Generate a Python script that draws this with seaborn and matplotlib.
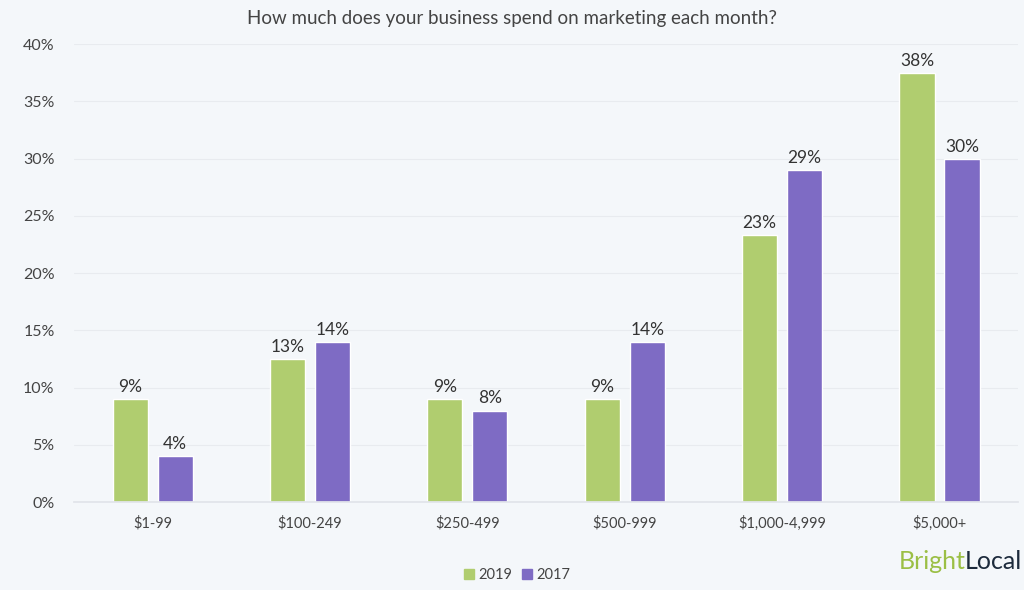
import pandas as pd
import matplotlib
matplotlib.use("Agg")
import matplotlib.pyplot as plt
import seaborn as sns

# survey answers, percent of businesses
categories = ["$1-99", "$100-249", "$250-499", "$500-999", "$1,000-4,999", "$5,000+"]
years = ["2019", "2017"]
share_2019 = [9, 12.5, 9, 9, 23.3, 37.5]
share_2017 = [4, 14, 8, 14, 29, 30]

df = pd.DataFrame({
    "spend": categories * 2,
    "year": [years[0]] * len(categories) + [years[1]] * len(categories),
    "share": share_2019 + share_2017,
})

bg = "#f4f7fa"
green = "#b0cd6f"
purple = "#7e6bc4"
text_col = "#444444"

sns.set_theme(style="white")
plt.rcParams["font.family"] = ["Lato", "DejaVu Sans"]

fig = plt.figure(figsize=(10.24, 5.9), dpi=100, facecolor=bg)
ax = fig.add_axes([0.0723, 0.149, 0.922, 0.776])
ax.set_facecolor(bg)

sns.barplot(data=df, x="spend", y="share", hue="year", hue_order=years,
            palette=[green, purple], width=0.572, gap=0.22, ax=ax,
            legend=False, saturation=1)

# value labels on top of bars
for cont in ax.containers:
    vals = [b.get_height() for b in cont]
    ax.bar_label(cont, labels=[f"{int(v + 0.5)}%" for v in vals], padding=3,
                 fontsize=12.5, color="#333333")

ax.set_ylim(0, 40)
ax.set_yticks(range(0, 41, 5))
ax.set_yticklabels([f"{t}%" for t in range(0, 41, 5)])
ax.yaxis.grid(True, color="#e8ebef", linewidth=0.8)
ax.set_axisbelow(True)
for s in ["top", "right", "left"]:
    ax.spines[s].set_visible(False)
ax.spines["bottom"].set_color("#e1e4ea")
ax.tick_params(axis="both", length=0, labelsize=10.5, colors=text_col)
ax.tick_params(axis="y", labelsize=11.5, pad=14)
ax.tick_params(axis="x", pad=10)
ax.set_xlabel("")
ax.set_ylabel("")

fig.text(0.5, 0.968, "How much does your business spend on marketing each month?",
         ha="center", va="center", fontsize=13.5, color=text_col)

handles = [plt.Line2D([], [], marker="s", linestyle="", color=c, markersize=7.5)
           for c in [green, purple]]
fig.legend(handles, years, loc="center", bbox_to_anchor=(0.505, 0.025), ncol=2,
           frameon=False, fontsize=10.5, handletextpad=0.3, columnspacing=0.6,
           handlelength=0.7, labelcolor=text_col)

# brand mark bottom right
t2 = fig.text(0.9985, 0.0356, "Local", ha="right", va="baseline", fontsize=18,
              color="#1d2b3c")
fig.canvas.draw()
bb = t2.get_window_extent()
x1 = fig.transFigure.inverted().transform((bb.x0, bb.y0))[0]
fig.text(x1, 0.0356, "Bright", ha="right", va="baseline", fontsize=18,
         color="#9bbf45")

fig.savefig("out.png", dpi=100, facecolor=bg)
